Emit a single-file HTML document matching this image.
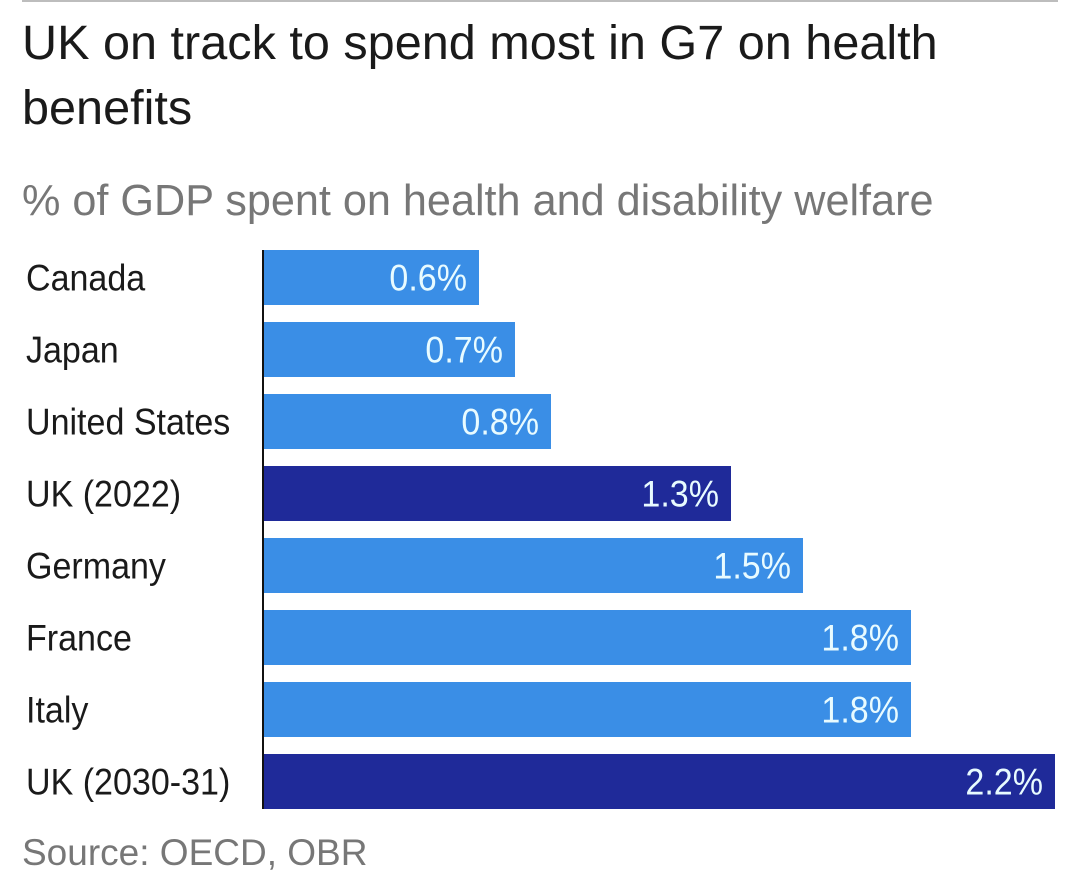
<!DOCTYPE html>
<html><head><meta charset="utf-8"><style>
body{margin:0;width:1080px;height:886px;background:#fff;overflow:hidden;font-family:"Liberation Sans",sans-serif;position:relative}
.rule{position:absolute;left:22px;top:0;width:1036px;height:2px;background:#bdbdbd}
h1{position:absolute;left:22px;top:11px;margin:0;font-weight:normal;font-size:48.6px;line-height:65px;color:#1a1a1a;width:1060px;white-space:nowrap}
.sub{position:absolute;left:22px;top:177px;font-size:43.2px;color:#777;white-space:nowrap}
.src{position:absolute;left:22px;top:832px;font-size:37px;color:#777}
svg{position:absolute;left:0;top:0}
</style></head><body>
<div class="rule"></div>
<h1>UK on track to spend most in G7 on health<br>benefits</h1>
<div class="sub">% of GDP spent on health and disability welfare</div>
<svg id="chart" width="1080" height="886"></svg>
<div class="src">Source: OECD, OBR</div>
<script>
const categories=["Canada","Japan","United States","UK (2022)","Germany","France","Italy","UK (2030-31)"];
const values=[0.6,0.7,0.8,1.3,1.5,1.8,1.8,2.2];
const highlight=[false,false,false,true,false,false,false,true];
const valueLabels=["0.6%","0.7%","0.8%","1.3%","1.5%","1.8%","1.8%","2.2%"];
const svg=document.getElementById('chart');
const NS='http://www.w3.org/2000/svg';
const x0=263,unit=360,top0=250,pitch=72,bh=55,sx=0.92;
const x=v=>x0+v*unit;
const y=i=>top0+i*pitch;
categories.forEach((c,i)=>{
  const r=document.createElementNS(NS,'rect');
  
  
  r.setAttribute('x',x0);r.setAttribute('y',y(i));
  r.setAttribute('width',x(values[i])-x0);r.setAttribute('height',bh);
  r.setAttribute('fill',highlight[i]?'#1f2a99':'#3a8ee6');
  svg.appendChild(r);
  const t=document.createElementNS(NS,'text');
  
  
  t.setAttribute('x',26/sx);t.setAttribute('y',y(i)+bh/2+13);
  t.setAttribute('transform','scale('+sx+',1)');
  t.setAttribute('font-size','37');t.setAttribute('fill','#1a1a1a');
  t.textContent=c;svg.appendChild(t);
  const v=document.createElementNS(NS,'text');
  
  
  v.setAttribute('x',(x(values[i])-12)/sx);v.setAttribute('y',y(i)+bh/2+13);
  v.setAttribute('transform','scale('+sx+',1)');
  v.setAttribute('text-anchor','end');
  v.setAttribute('font-size','37');v.setAttribute('fill','#e8fbff');
  v.textContent=valueLabels[i];svg.appendChild(v);
});
const ax=document.createElementNS(NS,'line');


ax.setAttribute('x1',x0);ax.setAttribute('x2',x0);ax.setAttribute('y1',top0);ax.setAttribute('y2',y(categories.length-1)+bh);
ax.setAttribute('stroke','#111');ax.setAttribute('stroke-width','2');
svg.appendChild(ax);
</script>
</body></html>
